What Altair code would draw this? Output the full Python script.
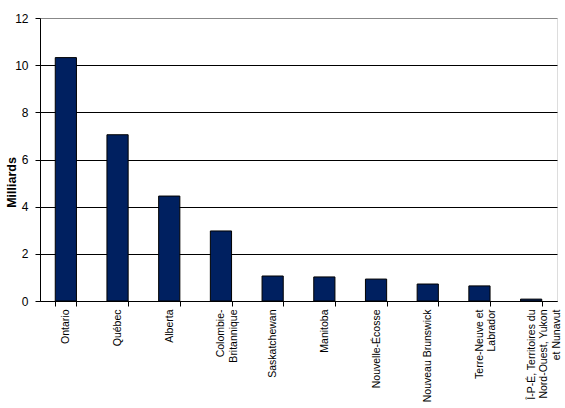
import altair as alt
import pandas as pd

provinces = [
    "Ontario", "Québec", "Alberta", "Colombie-\nBritannique", "Saskatchewan",
    "Manitoba", "Nouvelle-Écosse", "Nouveau Brunswick", "Terre-Neuve et\nLabrador",
    "Î-P-É, Territoires du\nNord-Ouest, Yukon\net Nunavut",
]
values = [10.32, 7.05, 4.45, 2.97, 1.06, 1.02, 0.93, 0.72, 0.64, 0.08]

df = pd.DataFrame({"prov": provinces, "val": values})

font = "Liberation Sans"

chart = alt.Chart(df).mark_bar(
    color="#002060", stroke="black", strokeWidth=1
).encode(
    x=alt.X("prov:N", sort=None, title=None,
            scale=alt.Scale(paddingInner=0.59, paddingOuter=0.295),
            axis=alt.Axis(labelAngle=-90, tickBand="extent", tickSize=5,
                          tickColor="black", domainColor="black",
                          labelFont=font, labelFontSize=10.5, labelColor="black",
                          labelPadding=3, labelLimit=200, labelLineHeight=12.5,
                          labelExpr="split(datum.label, '\\n')")),
    y=alt.Y("val:Q", title="Milliards",
            scale=alt.Scale(domain=[0, 12], nice=False),
            axis=alt.Axis(values=[0, 2, 4, 6, 8, 10, 12], tickSize=5,
                          tickColor="black", domainColor="black",
                          gridColor={"condition": {"test": "datum.value == 12", "value": "#888888"},
                                     "value": "black"},
                          gridOpacity=1, gridWidth=1,
                          labelFont=font, labelFontSize=12, labelColor="black",
                          labelPadding=7,
                          titleFont=font, titleFontSize=12.5, titleFontWeight="bold",
                          titleColor="black", titleAngle=-90,
                          titleX=-29, titleY=164, titleAlign="center",
                          titleBaseline="middle")),
).properties(
    width=517, height=283,
    padding={"left": 40, "top": 18, "right": 8, "bottom": 107},
    autosize="none",
).configure_view(stroke="#888888", strokeWidth=1).configure(background="white")

chart.save("out.html", embed_options={"renderer": "svg", "actions": False})
